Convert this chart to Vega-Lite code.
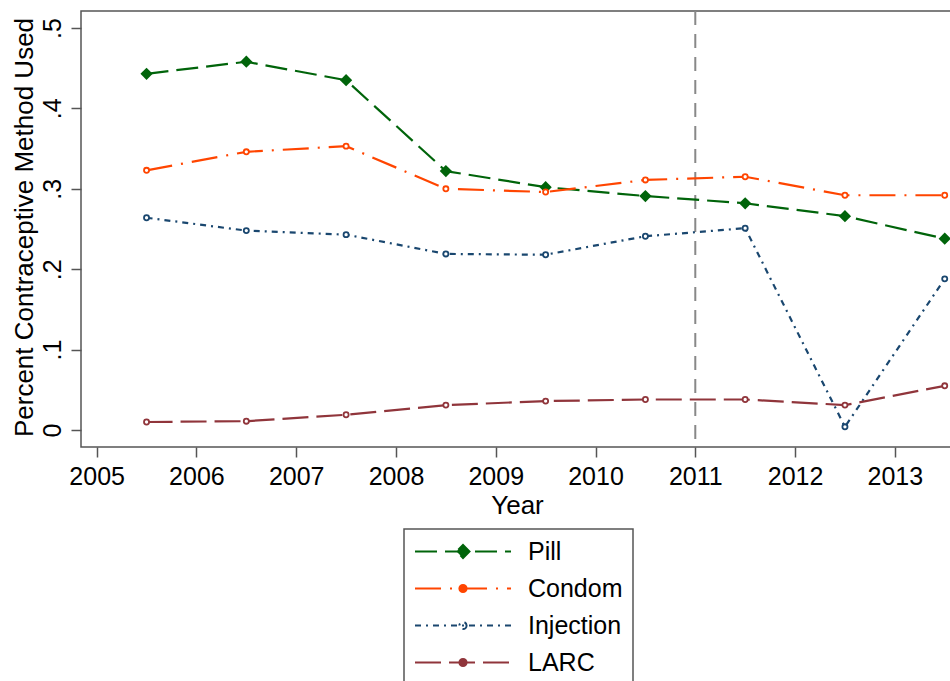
{
  "$schema": "https://vega.github.io/schema/vega-lite/v6.json",
  "autosize": {"type": "none"},
  "padding": {"left": 81, "top": 11, "right": 0, "bottom": 234},
  "width": 872,
  "height": 436,
  "background": "white",
  "config": {
    "font": "Liberation Sans",
    "view": {"stroke": "#555555", "strokeWidth": 1.5},
    "axis": {
      "grid": false,
      "domain": false,
      "tickColor": "#555555",
      "tickWidth": 1.5,
      "tickSize": 10,
      "labelFont": "Liberation Sans",
      "labelFontSize": 25,
      "labelColor": "black",
      "titleFont": "Liberation Sans",
      "titleFontSize": 26,
      "titleFontWeight": "normal",
      "titleColor": "black"
    },
    "legend": {
      "labelFont": "Liberation Sans",
      "labelFontSize": 25,
      "labelColor": "black"
    }
  },
  "datasets": {
    "series": [
      {"year": 2005.5, "series": "Pill", "value": 0.443},
      {"year": 2006.5, "series": "Pill", "value": 0.458},
      {"year": 2007.5, "series": "Pill", "value": 0.435},
      {"year": 2008.5, "series": "Pill", "value": 0.322},
      {"year": 2009.5, "series": "Pill", "value": 0.302},
      {"year": 2010.5, "series": "Pill", "value": 0.291},
      {"year": 2011.5, "series": "Pill", "value": 0.282},
      {"year": 2012.5, "series": "Pill", "value": 0.266},
      {"year": 2013.5, "series": "Pill", "value": 0.238},
      {"year": 2005.5, "series": "Condom", "value": 0.323},
      {"year": 2006.5, "series": "Condom", "value": 0.346},
      {"year": 2007.5, "series": "Condom", "value": 0.353},
      {"year": 2008.5, "series": "Condom", "value": 0.300},
      {"year": 2009.5, "series": "Condom", "value": 0.296},
      {"year": 2010.5, "series": "Condom", "value": 0.311},
      {"year": 2011.5, "series": "Condom", "value": 0.315},
      {"year": 2012.5, "series": "Condom", "value": 0.292},
      {"year": 2013.5, "series": "Condom", "value": 0.292},
      {"year": 2005.5, "series": "Injection", "value": 0.264},
      {"year": 2006.5, "series": "Injection", "value": 0.248},
      {"year": 2007.5, "series": "Injection", "value": 0.243},
      {"year": 2008.5, "series": "Injection", "value": 0.219},
      {"year": 2009.5, "series": "Injection", "value": 0.218},
      {"year": 2010.5, "series": "Injection", "value": 0.241},
      {"year": 2011.5, "series": "Injection", "value": 0.251},
      {"year": 2012.5, "series": "Injection", "value": 0.004},
      {"year": 2013.5, "series": "Injection", "value": 0.188},
      {"year": 2005.5, "series": "LARC", "value": 0.010},
      {"year": 2006.5, "series": "LARC", "value": 0.011},
      {"year": 2007.5, "series": "LARC", "value": 0.019},
      {"year": 2008.5, "series": "LARC", "value": 0.031},
      {"year": 2009.5, "series": "LARC", "value": 0.036},
      {"year": 2010.5, "series": "LARC", "value": 0.038},
      {"year": 2011.5, "series": "LARC", "value": 0.038},
      {"year": 2012.5, "series": "LARC", "value": 0.031},
      {"year": 2013.5, "series": "LARC", "value": 0.055}
    ],
    "cutoff": [{"year": 2011}]
  },
  "encoding": {
    "x": {
      "field": "year",
      "type": "quantitative",
      "title": "Year",
      "scale": {"domain": [2004.843, 2013.583], "nice": false, "zero": false},
      "axis": {"values": [2005, 2006, 2007, 2008, 2009, 2010, 2011, 2012, 2013], "format": "d", "labelBaseline": "alphabetic", "labelPadding": 27, "titlePadding": 3, "labelFlush": false}
    },
    "y": {
      "field": "value",
      "type": "quantitative",
      "title": "Percent Contraceptive Method Used",
      "scale": {"domain": [-0.0211, 0.5211], "nice": false, "zero": false},
      "axis": {
        "values": [0, 0.1, 0.2, 0.3, 0.4, 0.5],
        "labelExpr": "datum.value == 0 ? '0' : substring(format(datum.value, '.1f'), 1)",
        "labelAngle": -90,
        "labelAlign": "center",
        "labelBaseline": "alphabetic",
        "labelPadding": 11,
        "titleX": -49,
        "titleY": 216,
        "titleAngle": -90,
        "titleAlign": "center",
        "titleBaseline": "alphabetic"
      }
    }
  },
  "layer": [
    {
      "data": {"name": "cutoff"},
      "mark": {"type": "rule", "color": "#888888", "strokeWidth": 2, "strokeDash": [14, 9]},
      "encoding": {"y": null}
    },
    {
      "data": {"name": "series"},
      "mark": {"type": "line", "strokeWidth": 2.2},
      "encoding": {
        "color": {
          "field": "series",
          "type": "nominal",
          "scale": {"domain": ["Pill", "Condom", "Injection", "LARC"], "range": ["#00640a", "#ff4500", "#1a476f", "#90353b"]},
          "legend": {
            "title": null,
            "orient": "none",
            "legendX": 323,
            "legendY": 518,
            "strokeColor": "#555555",
            "padding": 10,
            "symbolType": "stroke",
            "symbolSize": 9216,
            "symbolStrokeWidth": 2,
            "clipHeight": 25,
            "rowPadding": 11,
            "labelOffset": 16,
            "fillColor": "white",
            "encode": {
              "legend": {"update": {"strokeWidth": {"value": 1.5}}},
              "symbols": {
                "update": {
                  "shape": {"signal": "datum.value === 'Pill' ? 'M-1,0H1M0,-0.135L0.135,0L0,0.135L-0.135,0Z' : 'M-1,0H1M0.075,0A0.075,0.075,0,1,1,-0.075,0A0.075,0.075,0,1,1,0.075,0Z'"},
                  "fill": {"signal": "datum.value === 'Pill' ? '#00640a' : datum.value === 'Condom' ? '#ff4500' : datum.value === 'LARC' ? '#90353b' : 'white'"},
                  "size": {"value": 9216},
                  "strokeWidth": {"value": 2},
                  "opacity": {"value": 1}
                }
              }
            }
          }
        },
        "strokeDash": {
          "field": "series",
          "type": "nominal",
          "scale": {"domain": ["Pill", "Condom", "Injection", "LARC"], "range": [[22, 8], [26, 9, 2, 9], [6, 5, 2, 5], [26, 8]]},
          "legend": {
            "title": null,
            "orient": "none",
            "legendX": 323,
            "legendY": 518
          }
        }
      }
    },
    {
      "data": {"name": "series"},
      "transform": [{"filter": "datum.series === 'Pill'"}],
      "mark": {"type": "point", "shape": "diamond", "filled": true, "color": "#00640a", "size": 150, "opacity": 1}
    },
    {
      "data": {"name": "series"},
      "transform": [{"filter": "datum.series !== 'Pill'"}],
      "mark": {"type": "point", "shape": "circle", "filled": false, "size": 26, "strokeWidth": 1.8, "opacity": 1},
      "encoding": {
        "fill": {"value": "white"},
        "stroke": {
          "field": "series",
          "type": "nominal",
          "scale": {"domain": ["Condom", "Injection", "LARC"], "range": ["#ff4500", "#1a476f", "#90353b"]},
          "legend": null
        }
      }
    }
  ]
}
